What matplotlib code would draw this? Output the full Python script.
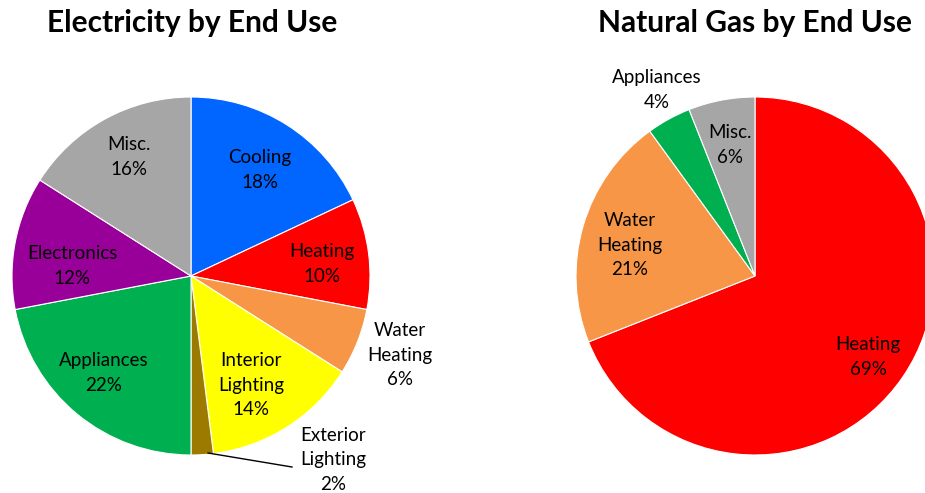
import matplotlib.pyplot as plt

plt.rcParams['font.family'] = ['Lato', 'DejaVu Sans']

# electricity by end use
elec_labels = ["Cooling", "Heating", "Water\nHeating", "Interior\nLighting",
               "Exterior\nLighting", "Appliances", "Electronics", "Misc."]
elec_vals = [18, 10, 6, 14, 2, 22, 12, 16]
elec_colors = ["#0066FF", "#FF0000", "#F79646", "#FFFF00",
               "#9C7A00", "#00B050", "#990099", "#A6A6A6"]

# natural gas by end use
gas_labels = ["Heating", "Water\nHeating", "Appliances", "Misc."]
gas_vals = [69, 21, 4, 6]
gas_colors = ["#FF0000", "#F79646", "#00B050", "#A6A6A6"]

W, H = 925, 493
R = 179
fig = plt.figure(figsize=(W / 100, H / 100), dpi=100)


def make_ax(cx, cy):
    ax = fig.add_axes([(cx - R) / W, (H - cy - R) / H, 2 * R / W, 2 * R / H])
    ax.set_xlim(-1, 1)
    ax.set_ylim(-1, 1)
    ax.axis("off")
    return ax


def put(ax, cx, cy, px, py, s):
    ax.text((px - cx) / R, (cy - py) / R, s, ha="center", va="center",
            fontsize=13.5, linespacing=1.55, color="black")


# left pie
cx1, cy1 = 191, 276
ax1 = make_ax(cx1, cy1)
ax1.pie(elec_vals, colors=elec_colors, startangle=90, counterclock=False,
        radius=1, wedgeprops=dict(edgecolor="white", linewidth=0.8))
ax1.set_xlim(-1, 1)
ax1.set_ylim(-1, 1)
pos1 = [(260, 170), (322, 264), (400, 355), (251, 385),
        (333, 460), (104, 373), (72, 266), (129, 157)]
for lab, v, (px, py) in zip(elec_labels, elec_vals, pos1):
    put(ax1, cx1, cy1, px, py, f"{lab}\n{v}%")
ax1.plot([(208 - cx1) / R, (292 - cx1) / R], [(cy1 - 453) / R, (cy1 - 467) / R],
         color="black", lw=1, clip_on=False)
fig.text(192 / W, 1 - 23 / H, "Electricity by End Use", ha="center", va="center",
         fontsize=21.5, fontweight="bold")

# right pie
cx2, cy2 = 755, 276
ax2 = make_ax(cx2, cy2)
ax2.pie(gas_vals, colors=gas_colors, startangle=90, counterclock=False,
        radius=1, wedgeprops=dict(edgecolor="white", linewidth=0.8))
ax2.set_xlim(-1, 1)
ax2.set_ylim(-1, 1)
pos2 = [(868, 357), (630, 245), (657, 90), (730, 145)]
for lab, v, (px, py) in zip(gas_labels, gas_vals, pos2):
    put(ax2, cx2, cy2, px, py, f"{lab}\n{v}%")
fig.text(755 / W, 1 - 23 / H, "Natural Gas by End Use", ha="center", va="center",
         fontsize=21.5, fontweight="bold")

fig.savefig("out.png", dpi=100)
